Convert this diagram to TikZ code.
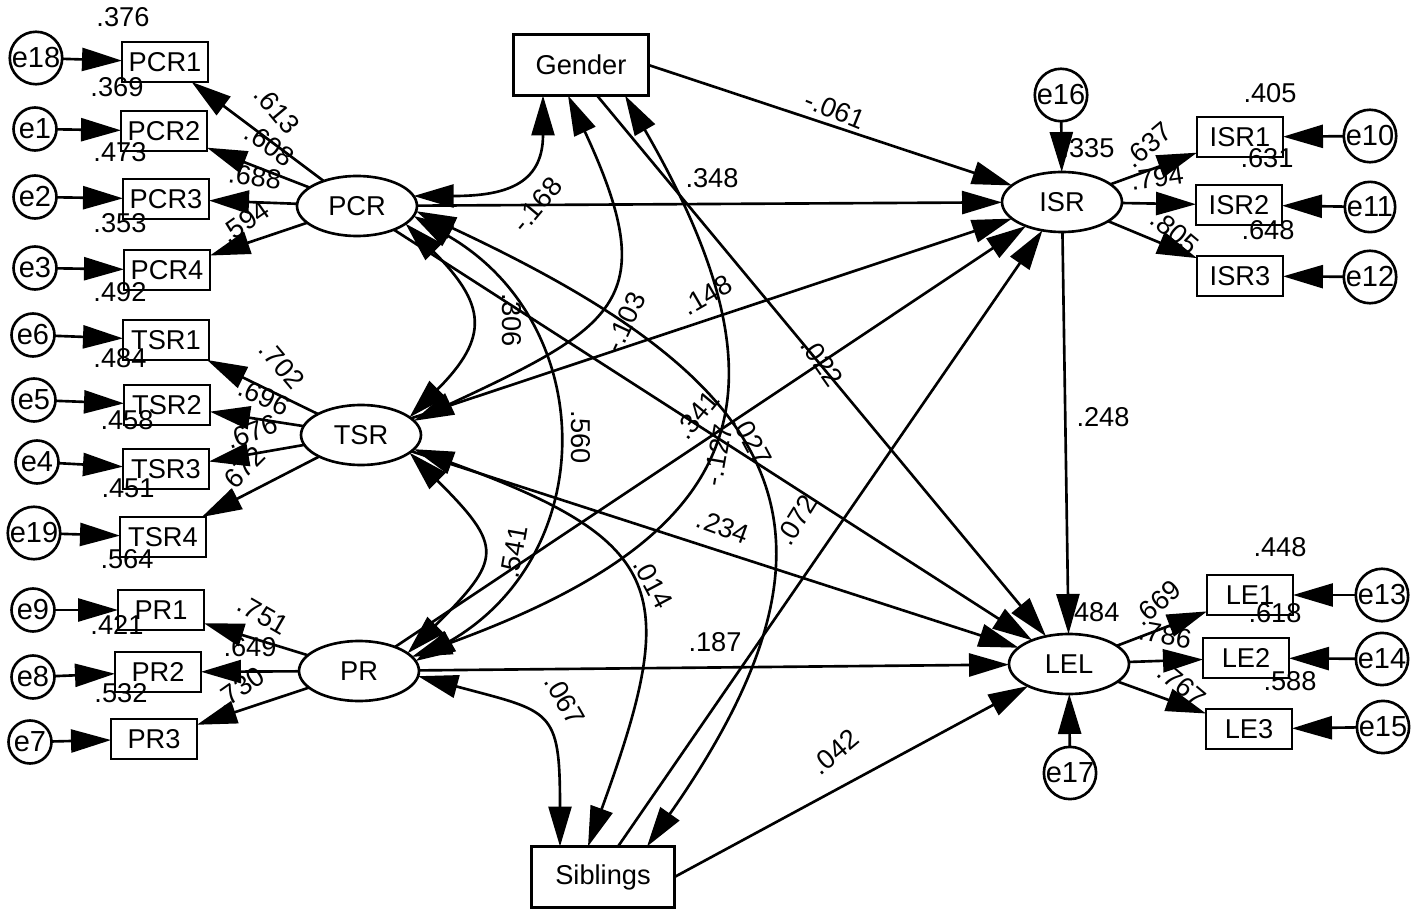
\documentclass[tikz,border=0pt]{standalone}
\usepackage{fontspec}
\setmainfont{Liberation Sans}
\usetikzlibrary{
    arrows.meta,
    calc,
    positioning,
    shapes.geometric
}
\tikzset{
    every picture/.style = {
        > = {Triangle[length = 0.8cm, width = 0.46cm]},
        line width = 1.5pt,
        x = 0.02cm,
        y = 0.02cm
    },
    every node/.style = {
        font = \fontsize{15.5}{18}\selectfont,
        inner sep = 0pt,
        outer sep = 0pt
    },
    item/.style = {
        draw,
        rectangle,
        minimum width = 1.72cm,
        minimum height = 0.8cm
    },
    latent/.style = {
        draw,
        ellipse,
        minimum width = 2.4cm,
        minimum height = 1.2cm
    },
    err/.style = {
        draw,
        circle,
        minimum size = 0.86cm,
        font = \fontsize{16.5}{18}\selectfont
    },
    demo/.style = {
        draw,
        rectangle,
        minimum width = 2.7cm,
        minimum height = 1.22cm
    }
}

\begin{document}
\begin{tikzpicture}
    \useasboundingbox (0,-915) rectangle (1417,0);

    \node[latent] (PCR) at (357,-206) {PCR};
    \node[latent] (TSR) at (361,-435) {TSR};
    \node[latent] (PR) at (359,-671) {PR};
    \node[latent] (ISR) at (1062,-202) {ISR};
    \node[latent] (LEL) at (1069,-664) {LEL};
    \node[demo] (Gender) at (581,-65) {Gender};
    \node[demo, minimum width = 2.86cm] (Siblings) at (603,-877) {Siblings};
    \node[err] (e16) at (1061,-95) {e16};
    \node[err] (e17) at (1070,-773) {e17};

    % indicators with their errors
    \foreach \n/\x/\y/\e/\ex/\ey/\f in {
        PCR1/165/62/e18/36/58/PCR, PCR2/164/131/e1/35/129/PCR,
        PCR3/166/199/e2/35/197/PCR, PCR4/167/270/e3/35/268/PCR,
        TSR1/166/340/e6/33/335/TSR, TSR2/167/405/e5/34/400/TSR,
        TSR3/166/469/e4/37/462/TSR, TSR4/163/537/e19/34/533/TSR,
        PR1/161/610/e9/33/610/PR, PR2/158/672/e8/33/677/PR,
        PR3/154/739/e7/30/742/PR,
        ISR1/1240/137/e10/1370/136/ISR, ISR2/1239/205/e11/1370/207/ISR,
        ISR3/1240/276/e12/1370/277/ISR,
        LE1/1250/595/e13/1382/595/LEL, LE2/1246/658/e14/1382/659/LEL,
        LE3/1249/729/e15/1383/727/LEL} {
        \node[item] (\n) at (\x,-\y) {\n};
        \node[err] (\e) at (\ex,-\ey) {\e};
        \path[->] (\e) edge (\n);
        \path[->] (\f) edge (\n);
    }

    \path[->] (e16) edge (ISR);
    \path[->] (e17) edge (LEL);
    \path[->] (ISR) edge (LEL);
    \path[->] (PCR) edge (ISR);
    \path[->] (TSR) edge (ISR);
    \path[->] (PR) edge (ISR);
    \path[->] (PCR) edge (LEL);
    \path[->] (TSR) edge (LEL);
    \path[->] (PR) edge (LEL);
    \path[->] (Gender.east) edge (ISR);
    \path[->] ($(Gender.south)+(16,0)$) edge (LEL);
    \path[->] ($(Siblings.north)+(15,0)$) edge (ISR);
    \path[->] (Siblings.east) edge (LEL);

    % covariances
    \path[<->] (PCR.-20) edge[out = -45, in = 45, looseness = 1.5] (TSR.20);
    \path[<->] (PCR.-10) edge[out = -30, in = 30, looseness = 1.23] (PR.10);
    \path[<->] (TSR.-20) edge[out = -45, in = 45, looseness = 1.7] (PR.20);
    \path[<->] (PCR.10) edge[out = 0, in = -90, looseness = 1.4] ($(Gender.south)+(-38,0)$);
    \path[<->] ($(Gender.south)+(-13,0)$) edge[out = -65, in = 25, looseness = 1.6] (TSR.15);
    \path[<->] ($(Gender.south)+(44,0)$) edge[out = -60, in = 20, looseness = 1.5] (PR.15);
    \path[<->] (PCR.-5) edge[out = -25, in = 55, looseness = 1.5] ($(Siblings.north)+(44,0)$);
    \path[<->] (TSR.-15) edge[out = -20, in = 70, looseness = 1.6] ($(Siblings.north)+(-15,0)$);
    \path[<->] (PR.-5) edge[out = -15, in = 90, looseness = 1.6] ($(Siblings.north)+(-43,0)$);

    % estimates
    \foreach \v/\x/\y/\r [count = \i] in {
        .613/277/110/-50, .608/270/145/-35, .688/255/177/-8, .594/245/222/35,
        .702/282/365/-50, .696/264/397/-25, .676/252/432/20, .672/242/470/45,
        .751/263/615/-30, .649/250/647/0, .730/240/688/35,
        .376/123/17/0, .369/117/87/0, .473/120/152/0, .353/120/223/0,
        .492/120/292/0, .484/120/358/0, .458/127/420/0, .451/128/488/0,
        .564/127/559/0, .421/117/625/0, .532/121/693/0,
        .405/1270/93/0, .631/1267/158/0, .648/1268/230/0, .335/1088/148/0,
        .637/1148/145/40, .794/1157/178/8, .805/1175/232/-40,
        .448/1280/547/0, .618/1275/613/0, .588/1290/681/0, .484/1093/612/0,
        .669/1157/603/40, .786/1165/635/-10, .767/1182/685/-40,
        -.061/835/110/-22, .348/712/178/0, .148/707/295/30, .022/822/362/-55,
        .234/723/527/-20, .072/797/520/58, .187/715/642/0, .042/835/752/40,
        .248/1103/417/0, .341/697/415/50, -.127/718/455/80, .027/752/440/-62,
        .306/512/320/-90, .560/581/437/-90, .541/514/552/80,
        -.168/537/205/50, -.103/625/322/65, .014/653/583/-62, .067/565/700/-60} {
        \node[rotate = \r] (est\i) at (\x,-\y) {\v};
    }
\end{tikzpicture}
\end{document}
